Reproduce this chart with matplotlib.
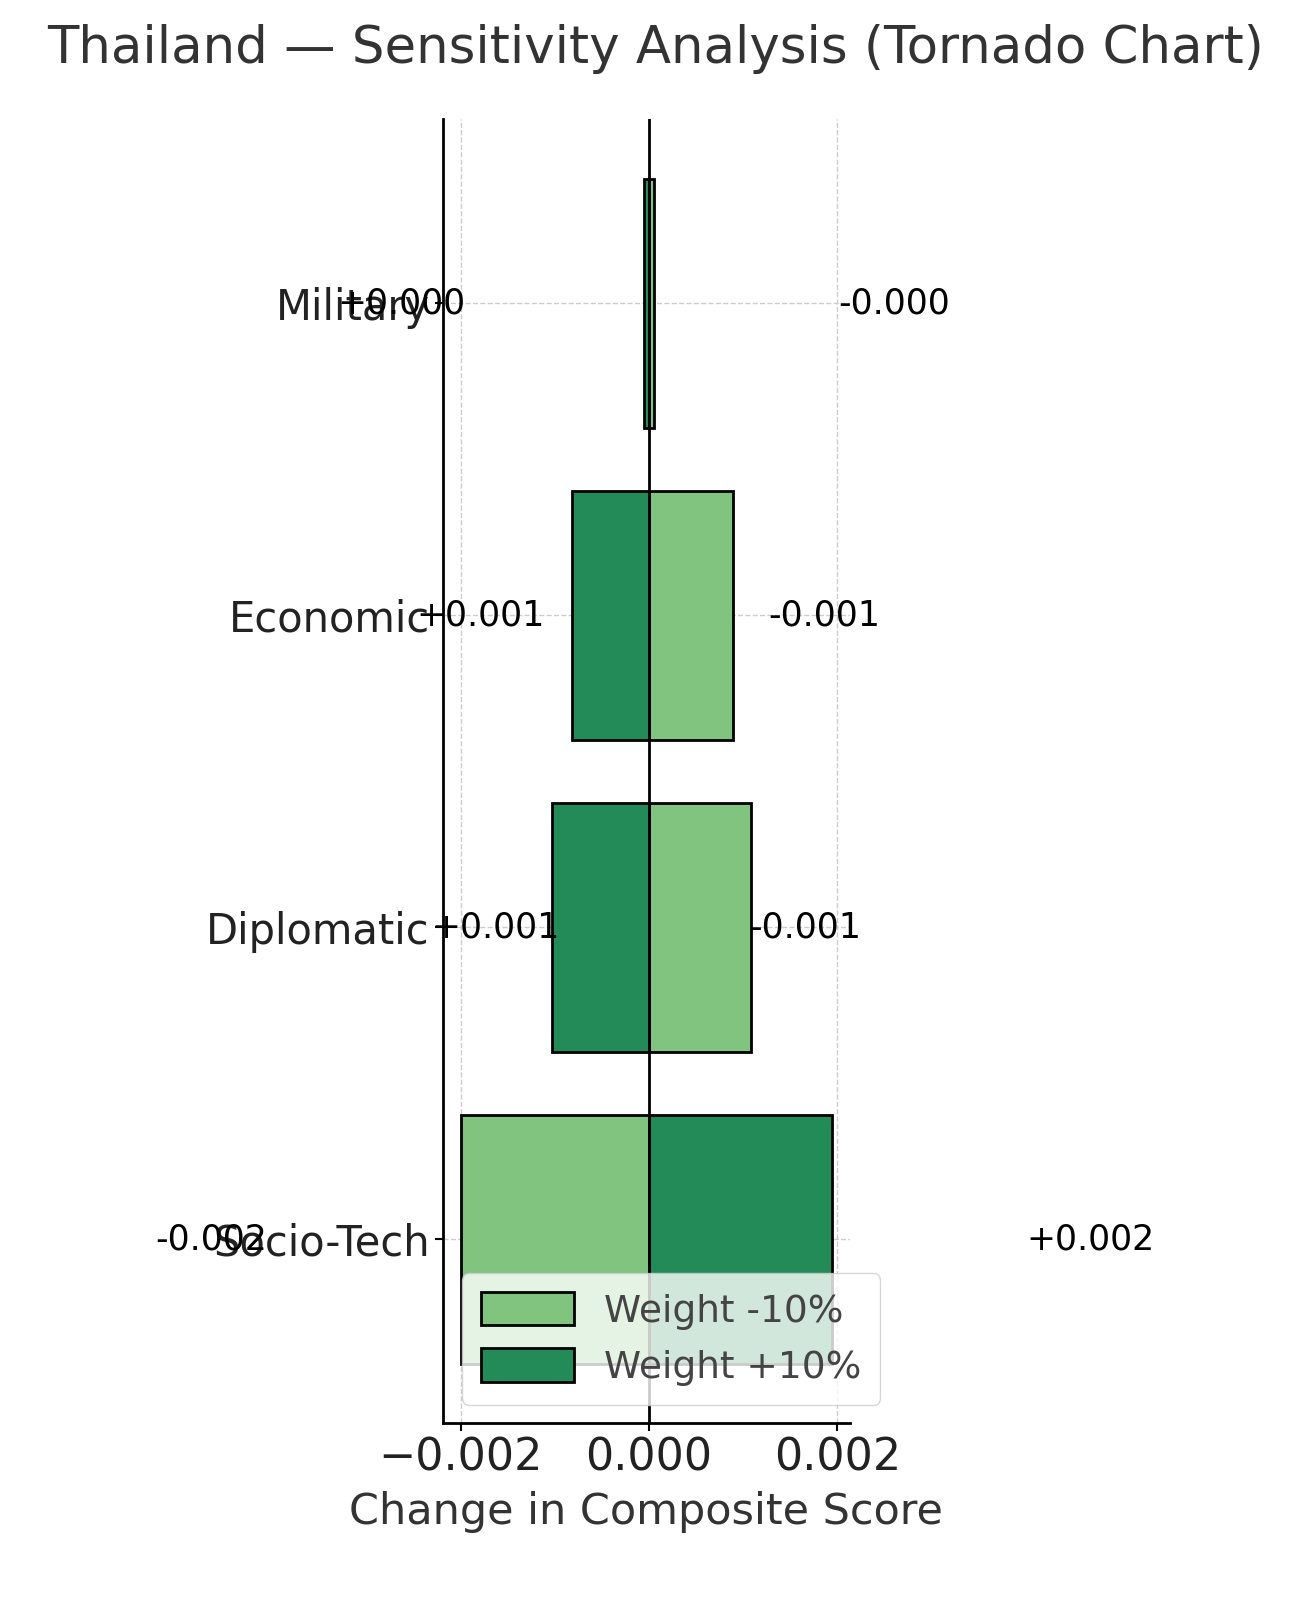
import matplotlib
matplotlib.use("Agg")
import matplotlib.pyplot as plt

categories = ["Military", "Economic", "Diplomatic", "Socio-Tech"]
minus10 = [0.00005, 0.00089, 0.00108, -0.00200]   # Weight -10%
plus10 = [-0.00005, -0.00082, -0.00103, 0.00194]  # Weight +10%
minus_labels = ["-0.000", "-0.001", "-0.001", "-0.002"]
plus_labels = ["+0.000", "+0.001", "+0.001", "+0.002"]

light = "#80c480"
dark = "#238b57"

fig = plt.figure(figsize=(13.11, 16.12), dpi=100)
ax = fig.add_axes([0.338, 0.117, 0.31, 0.809])
y = list(range(len(categories)))
ax.barh(y, minus10, height=0.8, color=light, edgecolor="black", linewidth=2, label="Weight -10%")
ax.barh(y, plus10, height=0.8, color=dark, edgecolor="black", linewidth=2, label="Weight +10%")
ax.axvline(0, color="black", linewidth=2)

# label centres (data units) as seen in the reference
plus_x = [-0.00263, -0.00179, -0.00163, 0.00469]
minus_x = [0.00260, 0.00186, 0.00166, -0.00466]
for i in y:
    ax.text(plus_x[i], i, plus_labels[i], ha="center", va="center", fontsize=25, clip_on=False)
    ax.text(minus_x[i], i, minus_labels[i], ha="center", va="center", fontsize=25, clip_on=False)

ax.set_xlim(-0.00219, 0.00213)
ax.set_ylim(3.59, -0.59)
ax.set_yticks(y)
ax.set_yticklabels(categories, fontsize=30, color="#222222")
ax.set_xticks([-0.002, 0.0, 0.002])
ax.set_xticklabels(["\u22120.002", "0.000", "0.002"], fontsize=32, color="#222222")
ax.tick_params(length=6, width=1.5)
ax.grid(True, linestyle="--", color="#cccccc", linewidth=1)
ax.set_axisbelow(True)
for s in ["top", "right"]:
    ax.spines[s].set_visible(False)
for s in ["left", "bottom"]:
    ax.spines[s].set_linewidth(2)
ax.set_xlabel("Change in Composite Score", fontsize=31, color="#333333", labelpad=8)
fig.suptitle("Thailand \u2014 Sensitivity Analysis (Tornado Chart)", fontsize=37, color="#333333", y=0.985)
leg = ax.legend(loc="lower left", fontsize=27, framealpha=0.8, borderpad=0.5,
                handlelength=2.5, handleheight=1.0)
for t in leg.get_texts():
    t.set_color("#444444")
fig.savefig("out.png", dpi=100)
